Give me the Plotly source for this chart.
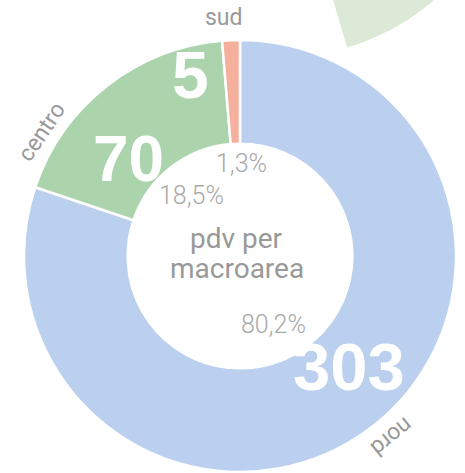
import numpy as np
import plotly.graph_objects as go

# ---- data ----
areas = ["nord", "centro", "sud"]
pdv = [303, 70, 5]
pct_labels = ["80,2%", "18,5%", "1,3%"]
colors = ["#bad0ee", "#abd4ad", "#f4b09c"]
center_title = ["pdv per", "macroarea"]

W, H = 465, 473
CX, CY, D = 240, 256, 216

def px(x):
    return x / W

def py(y):
    return 1 - y / H

def clamp(v):
    return min(1.0, max(0.0, v))

fig = go.Figure()
fig.add_trace(go.Pie(
    labels=areas, values=pdv, sort=False, direction="clockwise", rotation=0,
    hole=0.52, textinfo="none", textposition="none", hoverinfo="skip", showlegend=False,
    marker=dict(colors=colors, line=dict(color="white", width=2.5)),
    domain=dict(x=[clamp(px(CX - D)), clamp(px(CX + D))],
                y=[clamp(py(CY + D)), clamp(py(CY - D))]),
))

# decorative piece of another ring in the top-right corner
gcx, gcy, gr = 281, -177, 234
th = np.radians(np.linspace(73.6, 0, 40))
pts = [(gcx, gcy)] + [(gcx + gr * np.cos(t), gcy + gr * np.sin(t)) for t in th]
path = "M " + " L ".join(f"{px(x):.5f},{py(y):.5f}" for x, y in pts) + " Z"
shapes = [dict(type="path", xref="paper", yref="paper", path=path,
               fillcolor="#dbe9d6", line=dict(width=0), layer="below")]

ann = []
def add(text, x, y, size, color, family, angle=0, weight=None):
    f = dict(size=size, color=color, family=family)
    if weight is not None:
        f["weight"] = weight
    ann.append(dict(text=text, x=px(x), y=py(y), xref="paper", yref="paper",
                    xanchor="center", yanchor="middle", showarrow=False,
                    textangle=angle, font=f))

big = "Liberation Sans"
lab = "Roboto"
# big white values
add(str(pdv[0]), 349, 366, 67, "white", big, weight=700)
add(str(pdv[1]), 128, 159, 64, "white", big, weight=700)
add(str(pdv[2]), 190, 75, 66, "white", big, weight=700)
# percentages
add(pct_labels[0], 273, 324, 25, "#a9a9a9", lab, weight=300)
add(pct_labels[1], 191, 195, 25, "#a9a9a9", lab, weight=300)
add(pct_labels[2], 241, 163, 25, "#a9a9a9", lab, weight=300)
# area labels
add(areas[2], 224, 18, 23, "#999999", lab)
add(areas[1], 41, 132, 23, "#999999", lab, angle=-56)
add(areas[0], 392, 437, 23, "#999999", lab, angle=141)
# centre title
add(center_title[0], 236, 238, 28, "#999999", lab)
add(center_title[1], 237, 268, 28, "#999999", lab)

fig.update_layout(
    width=W, height=H, margin=dict(l=0, r=0, t=0, b=0),
    paper_bgcolor="white", plot_bgcolor="white",
    shapes=shapes, annotations=ann,
)
fig.write_html("out.html", config={"displayModeBar": False},
               post_script="document.body.style.margin='0';")
